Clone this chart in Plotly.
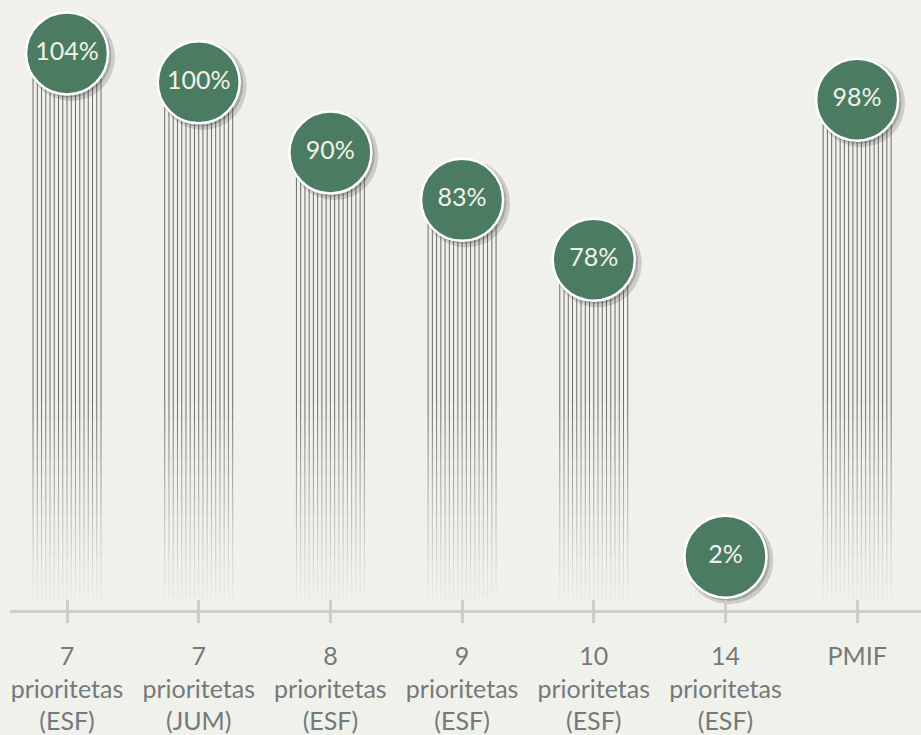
import plotly.graph_objects as go

# ---- data ----
categories = ["7<br>prioritetas<br>(ESF)", "7<br>prioritetas<br>(JUM)", "8<br>prioritetas<br>(ESF)",
              "9<br>prioritetas<br>(ESF)", "10<br>prioritetas<br>(ESF)", "14<br>prioritetas<br>(ESF)", "PMIF"]
values = [104, 100, 90, 83, 78, 2, 98]              # label values (%)
plotted_heights = [109.5, 103.8, 90, 80.7, 68.9, 10.5, 100.4]  # bubble heights as drawn in the picture

# ---- styling ----
BG = "#f0f1eb"
GREEN = "#4b7c62"
AXIS = "#cdcdcd"
TICKTXT = "#737a7c"
N_LINES = 17
HALF_W = 0.258
FADE_TOP = 40
LINE_BOTTOM = 2.4
N_FADE = 14

xs = list(range(len(categories)))
offsets = [-HALF_W + 2 * HALF_W * i / (N_LINES - 1) for i in range(N_LINES)]

fig = go.Figure()

# solid (upper) part of string lines
sx, sy = [], []
for x, h in zip(xs, plotted_heights):
    if h <= FADE_TOP:
        continue
    for o in offsets:
        sx += [x + o, x + o, None]
        sy += [h, FADE_TOP, None]
fig.add_trace(go.Scatter(x=sx, y=sy, mode="lines", line=dict(color="rgba(100,100,100,0.95)", width=1),
                         hoverinfo="skip", showlegend=False))

# fading lower part
step = (FADE_TOP - LINE_BOTTOM) / N_FADE
for k in range(N_FADE):
    top = FADE_TOP - k * step
    bot = top - step
    alpha = 0.9 * (1 - (k + 0.5) / N_FADE) ** 1.2 + 0.05
    fx, fy = [], []
    for x, h in zip(xs, plotted_heights):
        t = min(top, h)
        if t <= bot:
            continue
        for o in offsets:
            fx += [x + o, x + o, None]
            fy += [t, bot, None]
    fig.add_trace(go.Scatter(x=fx, y=fy, mode="lines",
                             line=dict(color=f"rgba(100,100,100,{alpha:.3f})", width=1),
                             hoverinfo="skip", showlegend=False))

# bubble shadows
fig.add_trace(go.Scatter(x=[x + 0.03 for x in xs], y=[h - 0.7 for h in plotted_heights], mode="markers",
                         marker=dict(size=88, color="rgba(60,60,60,0.2)", line=dict(width=0)),
                         hoverinfo="skip", showlegend=False, cliponaxis=False))
fig.add_trace(go.Scatter(x=[x + 0.018 for x in xs], y=[h - 0.45 for h in plotted_heights], mode="markers",
                         marker=dict(size=84, color="rgba(50,50,50,0.25)", line=dict(width=0)),
                         hoverinfo="skip", showlegend=False, cliponaxis=False))

# bubbles
fig.add_trace(go.Scatter(x=xs, y=plotted_heights, mode="markers+text",
                         marker=dict(size=82, color=GREEN, line=dict(color="#ffffff", width=2.5)),
                         text=[f"{v}%" for v in values], textposition="middle center",
                         textfont=dict(family="Lato", size=25, color="#f3f1e6"),
                         hoverinfo="skip", showlegend=False, cliponaxis=False))

# overlay axis for inner tick halves
fig.add_trace(go.Scatter(x=xs, y=[None] * len(xs), xaxis="x2", showlegend=False, hoverinfo="skip"))

fig.update_layout(
    width=921, height=735,
    margin=dict(l=0, r=0, t=0, b=123),
    paper_bgcolor=BG, plot_bgcolor=BG,
    xaxis=dict(domain=[10 / 921, 1], range=[-0.433, 6.485], tickmode="array", tickvals=xs, ticktext=categories,
               showline=True, linecolor=AXIS, linewidth=3, ticks="outside", ticklen=10, tickwidth=3,
               tickcolor=AXIS, showgrid=False, zeroline=False, ticklabelstandoff=12,
               tickfont=dict(family="Lato", size=25, color=TICKTXT)),
    xaxis2=dict(domain=[10 / 921, 1], range=[-0.433, 6.485], overlaying="x", anchor="y", tickmode="array",
                tickvals=xs, ticks="inside", ticklen=10, tickwidth=3, tickcolor=AXIS, showticklabels=False,
                showgrid=False, zeroline=False, side="bottom"),
    yaxis=dict(range=[0, 120], visible=False, domain=[0, 1]),
)

fig.write_html("out.html", config={"displayModeBar": False},
               post_script="document.body.style.margin='0';document.body.style.overflow='hidden';")
